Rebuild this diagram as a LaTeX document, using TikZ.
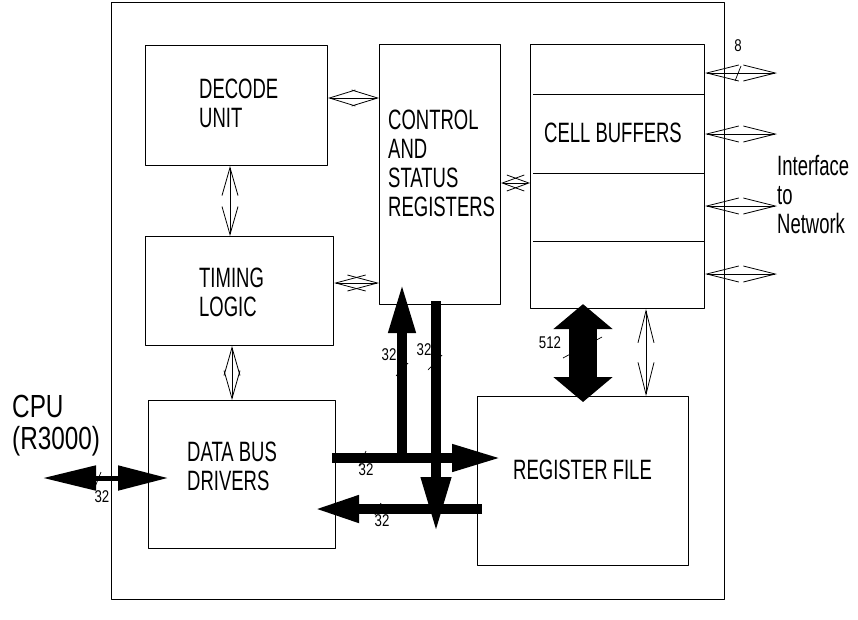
\documentclass[tikz,border=0pt]{standalone}
\usepackage{fontspec}
\setmainfont{Liberation Sans}[FakeStretch=0.66]
\newfontfamily\cpufont{Liberation Sans}[FakeStretch=0.76]
\newfontfamily\busfont{Liberation Sans}[FakeStretch=0.78]
\usetikzlibrary{arrows.meta,calc}

\begin{document}
\begin{tikzpicture}[x=1pt, y=-1pt, line join=round,
    box/.style={draw, line width=1.1pt, anchor=north west, inner sep=0pt},
    lbl/.style={anchor=north west, inner sep=0pt, align=left, font=\fontsize{28}{29}\selectfont},
    num/.style={inner sep=0pt, font=\busfont\fontsize{17}{17}\selectfont},
    link/.style={line width=0.8pt, {Straight Barb[length=#1,width=16pt]}-{Straight Barb[length=#1,width=16pt]}},
    link/.default=28pt,
    bus/.style={line width=10pt, -{Triangle[length=50pt,width=25pt]}},
    buswidth/.style={line width=0.7pt}]
    \useasboundingbox (0,0) rectangle (858,619);

    % blocks
    \node[box, minimum width=613pt, minimum height=597pt] (board) at (111,2) {};
    \node[box, minimum width=182pt, minimum height=120pt] (decode) at (145,45) {};
    \node[box, minimum width=188pt, minimum height=109pt] (timing) at (145,236) {};
    \node[box, minimum width=187pt, minimum height=148pt] (drivers) at (148,400) {};
    \node[box, minimum width=121pt, minimum height=260pt] (ctrl) at (379,44) {};
    \node[box, minimum width=174pt, minimum height=264pt] (cells) at (530,44) {};
    \node[box, minimum width=211pt, minimum height=169pt] (regfile) at (477,396) {};
    \draw[line width=0.8pt] (533,94) -- (704,94) (533,173) -- (704,173) (533,241) -- (704,241);

    \node[lbl] (decodetxt) at (199,79) {DECODE\\UNIT};
    \node[lbl] (timingtxt) at (199,268) {TIMING\\LOGIC};
    \node[lbl] (driverstxt) at (187,442) {DATA BUS\\DRIVERS};
    \node[lbl] (ctrltxt) at (388,110) {CONTROL\\AND\\STATUS\\REGISTERS};
    \node[lbl] (cellstxt) at (544,123) {CELL BUFFERS};
    \node[lbl] (regfiletxt) at (513,460) {REGISTER FILE};
    \node[lbl] (nettxt) at (777,155) {Interface\\to\\Network};
    \node[lbl, font=\cpufont\fontsize{32}{32}\selectfont] (cputxt) at (12,395) {CPU\\(R3000)};

    % control lines
    \draw[link=26pt] (decode.east |- 0,98) -- (ctrl.west |- 0,98);
    \draw[link=30pt] (timing.east |- 0,283) -- (ctrl.west |- 0,283);
    \draw[link=22pt] (ctrl.east |- 0,183) -- (cells.west |- 0,183);
    \draw[link] (decode.south -| 230,0) -- (timing.north -| 230,0);
    \draw[link] (timing.south -| 232,0) -- (drivers.north -| 232,0);
    \draw[link=32pt] (cells.south -| 646,0) -- (regfile.north -| 646,0);
    \foreach \y [count=\i] in {73,134,206,274} {
        \coordinate (net\i) at (777,\y);
        \draw[link=32pt] (cells.east |- net\i) -- (net\i);
    }

    % bus width marks
    \draw[buswidth] (95,487) -- (101,472);
    \draw[buswidth] (735,81) -- (741,66);
    \draw[buswidth] (563,358) -- (602,337);
    \draw[buswidth] (396,376) -- (408,363);
    \draw[buswidth] (428,370) -- (442,355);
    \draw[buswidth] (359,466) -- (366,451);
    \draw[buswidth] (375,515) -- (381,503);

    % data buses
    \coordinate (upfoot) at (402,463);
    \coordinate (dntip) at (436,532);
    \coordinate (cpu) at (43,478);
    \draw[bus] ($(drivers.east |- 0,458)+(-4,0)$) -- ($(regfile.west |- 0,458)+(25,0)$);
    \draw[bus] (upfoot) -- ($(ctrl.south -| upfoot)+(0,-22)$);
    \draw[bus, -{Triangle[length=55pt,width=28pt]}] ($(ctrl.south -| dntip)+(0,-4)$) -- (dntip);
    \draw[bus, -{Triangle[length=45pt,width=25pt]}] ($(regfile.west |- 0,509)+(5,0)$) -- ($(drivers.east |- 0,509)+(-22,0)$);
    \draw[line width=5pt, {Triangle[length=53pt,width=24pt]}-{Triangle[length=50pt,width=24pt]}] (cpu) -- ($(drivers.west |- cpu)+(20,0)$);
    \draw[line width=28pt, {Triangle[length=25pt,width=58pt]}-{Triangle[length=25pt,width=58pt]}] ($(cells.south -| 583,0)+(0,-5)$) -- ($(regfile.north -| 583,0)+(0,6)$);

    \node[num] (n512) at (550,343) {512};
    \node[num] (nup) at (389,355) {32};
    \node[num] (ndn) at (424,350) {32};
    \node[num] (nhor) at (366,470) {32};
    \node[num] (nleft) at (382,521) {32};
    \node[num] (ncpu) at (102,497) {32};
    \node[num] (n8) at (738,46) {8};
\end{tikzpicture}
\end{document}
